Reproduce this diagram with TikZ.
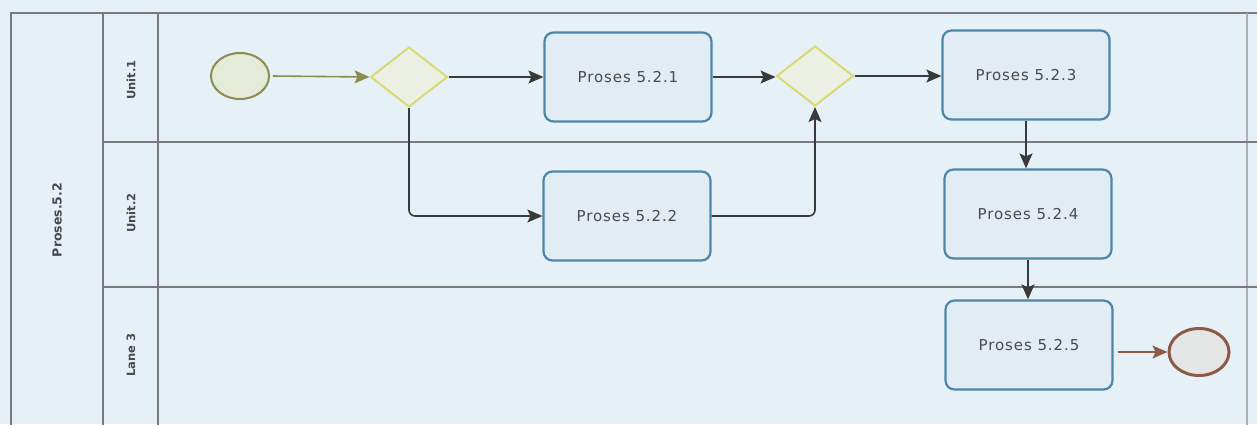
\documentclass[tikz,border=0pt]{standalone}
\usepackage{fontspec}
\setmainfont{DejaVu Sans}
\usetikzlibrary{shapes.geometric,arrows.meta}
\definecolor{bgc}{HTML}{E6F1F7}
\definecolor{lanec}{HTML}{7A7A7A}
\definecolor{boxline}{HTML}{4E86A8}
\definecolor{boxfill}{HTML}{E2ECF4}
\definecolor{startline}{HTML}{8C8C50}
\definecolor{startfill}{HTML}{E4EBD8}
\definecolor{gateline}{HTML}{DADA74}
\definecolor{gatefill}{HTML}{ECF0E2}
\definecolor{endline}{HTML}{8E5A48}
\definecolor{endfill}{HTML}{E4E6E6}
\definecolor{flowc}{HTML}{3A3A3A}
\definecolor{txtc}{HTML}{4A4A4A}
\tikzset{
  procbox/.style={draw=boxline, fill=boxfill, line width=2.2pt, rounded corners=9pt,
    minimum width=167pt, minimum height=89pt, inner sep=0pt,
    font=\fontsize{15}{17}\selectfont\addfontfeature{LetterSpace=6}, text=txtc},
  startev/.style={ellipse, draw=startline, fill=startfill, line width=2pt,
    minimum width=58pt, minimum height=46pt, inner sep=0pt},
  endev/.style={ellipse, draw=endline, fill=endfill, line width=3pt,
    minimum width=60pt, minimum height=47pt, inner sep=0pt},
  gatew/.style={diamond, draw=gateline, fill=gatefill, line width=2pt,
    minimum width=77pt, minimum height=60pt, inner sep=0pt},
  flow/.style={draw=flowc, line width=1.6pt, -{Stealth[length=15pt,width=13pt,inset=3pt]}},
  lanetxt/.style={rotate=90, font=\bfseries\fontsize{11.5}{13}\selectfont, text=txtc},
  pooltxt/.style={rotate=90, font=\bfseries\fontsize{12.5}{14}\selectfont, text=txtc},
  laneline/.style={draw=lanec, line width=1.6pt}
}
\begin{document}
\begin{tikzpicture}[x=1pt,y=-1pt]
\useasboundingbox (0,0) rectangle (1257,424);
\fill[bgc] (0,0) rectangle (1257,424);
% pool and lanes
\draw[laneline] (11,440) -- (11,13) -- (1257,13);
\draw[laneline] (103,13) -- (103,440);
\draw[laneline] (158,13) -- (158,440);
\draw[laneline, draw=lanec!60] (1247,13) -- (1247,440);
\draw[laneline] (103,142) -- (1257,142);
\draw[laneline] (103,287) -- (1257,287);
\node[pooltxt] (pool) at (57,220) {Proses.5.2};
\node[lanetxt] (l1) at (131,80) {Unit.1};
\node[lanetxt] (l2) at (131,213) {Unit.2};
\node[lanetxt] (l3) at (131,355) {Lane 3};
% nodes
\node[startev] (s) at (240,76) {};
\node[gatew] (g1) at (409,77) {};
\node[procbox] (p1) at (628,77) {Proses 5.2.1};
\node[procbox] (p2) at (627,216) {Proses 5.2.2};
\node[gatew] (g2) at (815,76) {};
\node[procbox] (p3) at (1026,75) {Proses 5.2.3};
\node[procbox] (p4) at (1028,214) {Proses 5.2.4};
\node[procbox] (p5) at (1029,345) {Proses 5.2.5};
\node[endev] (e) at (1199,352) {};
% flows
\draw[flow, draw=startline] ([xshift=3pt]s.east) -- (g1.west);
\draw[flow] (g1.east) -- (p1.west |- g1.east);
\draw[flow, rounded corners=6pt] (g1.south) |- (p2.west);
\draw[flow] (p1.east) -- (g2.west |- p1.east);
\draw[flow, rounded corners=6pt] (p2.east) -| (g2.south);
\draw[flow] (g2.east) -- (p3.west |- g2.east);
\draw[flow] (p3.south) -- (p3.south |- p4.north);
\draw[flow] (p4.south) -- (p4.south |- p5.north);
\draw[flow, draw=endline] ([xshift=4pt]p5.east |- e.west) -- (e.west);
\end{tikzpicture}
\end{document}
